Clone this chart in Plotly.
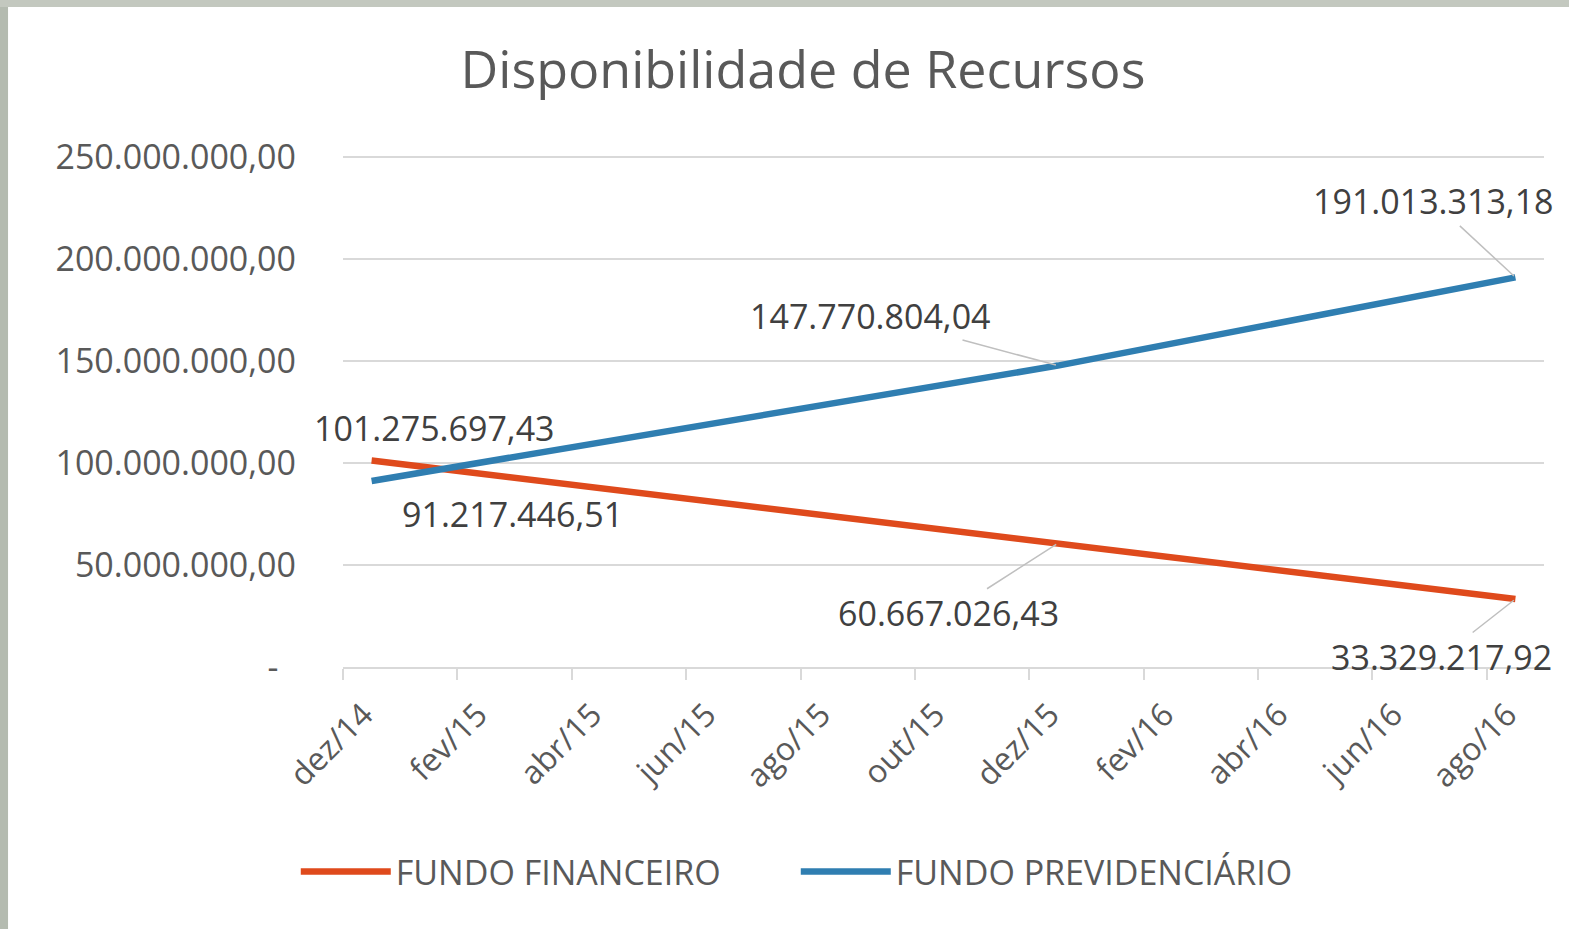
import plotly.graph_objects as go

# ---- data ----
months = ["dez/14", "jan/15", "fev/15", "mar/15", "abr/15", "mai/15", "jun/15",
          "jul/15", "ago/15", "set/15", "out/15", "nov/15", "dez/15", "jan/16",
          "fev/16", "mar/16", "abr/16", "mai/16", "jun/16", "jul/16", "ago/16"]
point_months = ["dez/14", "dez/15", "ago/16"]
fundo_financeiro = [101275697.43, 60667026.43, 33329217.92]
fundo_previdenciario = [91217446.51, 147770804.04, 191013313.18]
tick_months = months[::2]
y_ticks = [0, 50e6, 100e6, 150e6, 200e6, 250e6]
y_ticktext = ["-\u00a0\u00a0", "50.000.000,00", "100.000.000,00", "150.000.000,00",
              "200.000.000,00", "250.000.000,00"]

RED = "#DF4A1C"
BLUE = "#2F7EB1"
GRID = "#D9D9D9"
TXT = "#595959"
LBL = "#404040"
FONT = "Open Sans"


def br(v):
    s = f"{v:,.2f}"
    return s.replace(",", "X").replace(".", ",").replace("X", ".")


xi = [months.index(m) for m in point_months]

fig = go.Figure()
fig.add_trace(go.Scatter(x=xi, y=fundo_financeiro, mode="lines", name="FUNDO FINANCEIRO",
                         line=dict(color=RED, width=6.5)))
fig.add_trace(go.Scatter(x=xi, y=fundo_previdenciario, mode="lines", name="FUNDO PREVIDENCIÁRIO",
                         line=dict(color=BLUE, width=6.5)))

# data labels (pixel offsets from the point)
red_off = [(63, -32, False), (-109, 70, True), (-74, 58, True)]
blue_off = [(141, 33, False), (-187, -50, True), (-82, -76, True)]
for series, offs in ((fundo_financeiro, red_off), (fundo_previdenciario, blue_off)):
    for x, v, (ax, ay, arrow) in zip(xi, series, offs):
        if arrow:
            fig.add_annotation(x=x, y=v, text=br(v), showarrow=True, ax=ax, ay=ay,
                               arrowhead=0, arrowwidth=1.5, arrowcolor="#BFBFBF", standoff=2,
                               font=dict(family=FONT, size=34, color=LBL))
        else:
            fig.add_annotation(x=x, y=v, text=br(v), showarrow=False, xshift=ax, yshift=-ay,
                               font=dict(family=FONT, size=34, color=LBL))

# photo border strips (left and top)
fig.add_shape(type="rect", xref="paper", yref="paper", x0=-0.2857, x1=-0.2789, y0=-0.52, y1=1.32,
              fillcolor="#B4BBB0", line_width=0, layer="below")
fig.add_shape(type="rect", xref="paper", yref="paper", x0=-0.2857, x1=1.03, y0=1.289, y1=1.32,
              fillcolor="#C3C8BF", line_width=0, layer="below")

fig.update_layout(
    width=1569, height=929,
    margin=dict(l=343, r=25, t=155, b=262),
    paper_bgcolor="white", plot_bgcolor="white",
    title=dict(text="Disponibilidade de Recursos", x=(803) / 1569, xanchor="center",
               y=1 - 70 / 929, yanchor="middle",
               font=dict(family=FONT, size=52, color=TXT)),
    showlegend=True,
    legend=dict(orientation="h", x=0.377, xanchor="center", y=-0.40, yanchor="middle",
                font=dict(family=FONT, size=34, color=TXT), itemwidth=90,
                entrywidth=395, entrywidthmode="pixels"),
    font=dict(family=FONT, color=TXT),
)
fig.update_xaxes(range=[-0.5, 20.5], tickmode="array", tickvals=[months.index(m) for m in tick_months],
                 ticktext=tick_months, tickangle=-45, ticks="", showgrid=False,
                 showline=True, linecolor=GRID, linewidth=2,
                 tickfont=dict(family=FONT, size=32, color=TXT),
                 ticklabelstandoff=14, ticklabelshift=-8,
                 minor=dict(tickmode="linear", tick0=-0.5, dtick=2, ticks="outside", ticklen=11,
                            tickcolor=GRID, tickwidth=2, showgrid=False),
                 zeroline=False, fixedrange=True)
fig.update_yaxes(range=[0, 251e6], tickmode="array", tickvals=y_ticks, ticktext=y_ticktext,
                 showgrid=True, gridcolor=GRID, gridwidth=2, zeroline=False, showline=False,
                 ticks="", ticklabelstandoff=46,
                 tickfont=dict(family=FONT, size=34, color=TXT), fixedrange=True)

fig.write_html("out.html")
